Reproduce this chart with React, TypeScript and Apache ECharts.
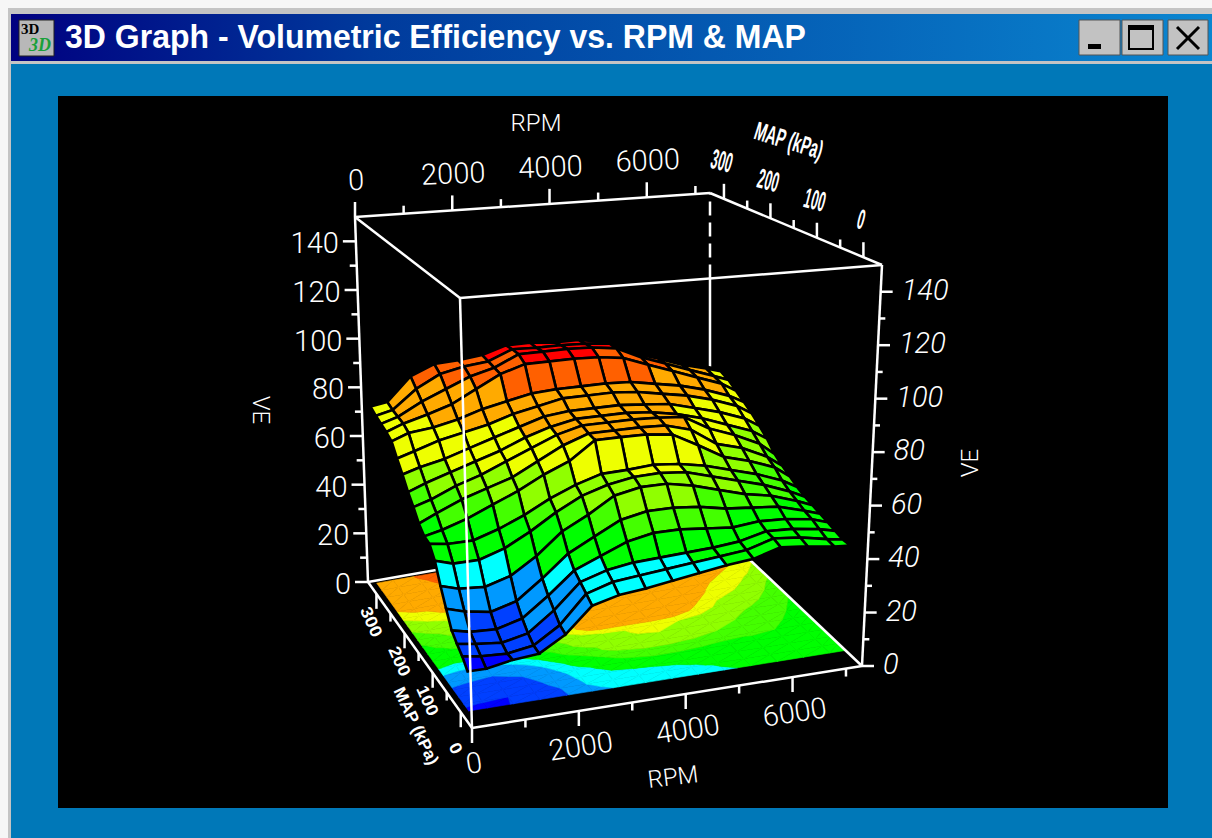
import React, { useEffect, useRef } from "react";
import * as echarts from "echarts";

const TITLE = "3D Graph - Volumetric Efficiency vs. RPM & MAP";

const rpmAxisValues = [150, 500, 1000, 1500, 2000, 2500, 3000, 3500, 4000, 4500, 5000, 5500, 6000, 6500, 7000, 7300];
const mapAxisValues = [0, 18, 36, 54, 72, 90, 108, 126, 144, 162, 180, 198, 216, 234, 252, 270, 288, 306, 324];

const veRow0 = [14, 14, 15.7, 16.5, 22, 31, 33.5, 34.5, 36, 37.5, 39, 40, 43, 42, 40.5, 40];
const veRow1 = [17, 16, 15.5, 17, 23, 33, 36, 37, 38, 39, 40, 41, 44, 43, 41, 40];
const veRow2 = [19, 18, 17, 19, 26, 35, 38, 39.5, 40, 40.5, 41, 42, 44.5, 44, 42.5, 41];
const veRow3 = [21.5, 20, 19.5, 22, 29, 37, 41, 45, 47, 47, 46, 45, 46, 45.5, 44, 42];
const veRow4 = [27, 25, 23.4, 26, 33, 41, 46, 51, 53, 53, 52, 50, 49, 48, 45, 43];
const veRow5 = [33, 31, 30.3, 33, 39, 47, 52, 58, 60, 60, 58, 55, 52, 50, 46.5, 44];
const veRow6 = [40, 38, 38, 41, 46, 52, 57, 60, 61.7, 62, 61, 58, 55, 52, 48, 45];
const veRow7 = [44, 43, 43, 46, 50, 55, 59, 62, 62.3, 63, 62, 60, 57, 54, 50, 46.5];
const veRow8 = [44.5, 46, 49, 53, 57, 62, 66, 73, 73, 72.8, 71.5, 66, 60, 57, 53, 48.5];
const veRow9 = [47, 50, 54, 57, 60, 65, 70, 73.5, 73.5, 73.5, 73, 70, 63, 60, 55, 50.5];
const veRow10 = [51, 53, 57, 60, 64, 68, 72, 74.5, 74.5, 74.5, 74, 73, 67, 63, 58, 53];
const veRow11 = [54.5, 57, 60, 63, 66, 70, 73, 75, 75, 75, 74, 72, 69, 65, 61, 57];
const veRow12 = [59, 61, 63, 66, 69, 72, 75, 76, 76, 76, 75, 74, 71, 68, 64, 60];
const veRow13 = [63, 65, 68, 70, 72, 75, 77, 79, 79, 79, 78, 76, 74, 71, 67, 63];
const veRow14 = [67.5, 70, 71, 73, 76, 78, 80, 80.6, 80.6, 80.6, 80, 78, 76, 73, 69, 65.5];
const veRow15 = [69, 71.5, 74, 77, 82, 87, 90, 90, 90, 89.5, 88, 84, 80, 76, 72, 68];
const veRow16 = [70, 72, 77, 81, 85, 87.5, 92, 92, 92, 91.5, 90, 85, 81, 77, 73, 70.5];
const veRow17 = [71, 72.5, 80, 85, 87, 88, 92, 91.5, 91.5, 91, 90, 84.5, 81, 77, 74, 72];
const veRow18 = [72.5, 73.5, 83, 87, 87.5, 88.5, 91.5, 91.5, 90.5, 90.5, 88.5, 83, 80, 76, 73, 71];

const rpmTicks = [0, 1000, 2000, 3000, 4000, 5000, 6000, 7000];
const rpmTickLabels = ["0", "2000", "4000", "6000"];
const mapTicks = [0, 50, 100, 150, 200, 250, 300];
const mapTickLabels = ["0", "100", "200", "300"];
const veTicks = [0, 10, 20, 30, 40, 50, 60, 70, 80, 90, 100, 110, 120, 130, 140];
const veTickLabels = ["0", "20", "40", "60", "80", "100", "120", "140"];

const bandLimits = [15.5, 23, 33, 39.5, 48, 55, 62, 72.5, 82, 90];
const floorLimits = [15.5, 23, 33, 39.5, 48, 55, 62, 67.5, 82, 90];
const bandColors = ["#0000ff", "#0040ff", "#0099ff", "#00ffff", "#00ff00", "#44ff00", "#90ff00", "#eeff00", "#ffaa00", "#ff6000", "#ff0000"];

const table = [veRow0, veRow1, veRow2, veRow3, veRow4, veRow5, veRow6, veRow7, veRow8, veRow9, veRow10, veRow11, veRow12, veRow13, veRow14, veRow15, veRow16, veRow17, veRow18];

const RPM_MAX = 7300;
const MAP_MIN = -40;
const MAP_MAX = 330;
const VE_MAX = 150;

// screen corners of the plot box [rpm][map][ve]
const C000 = [472, 728], C100 = [862, 666], C010 = [368, 582], C110 = [710, 522];
const C001 = [460, 298], C101 = [882, 265], C011 = [355, 217], C111 = [710, 193];

function project(rpm: number, map: number, ve: number) {
  const u = rpm / RPM_MAX, v = (map - MAP_MIN) / (MAP_MAX - MAP_MIN), w = ve / VE_MAX;
  const f = (i: number) =>
    (1 - w) * ((1 - v) * ((1 - u) * C000[i] + u * C100[i]) + v * ((1 - u) * C010[i] + u * C110[i])) +
    w * ((1 - v) * ((1 - u) * C001[i] + u * C101[i]) + v * ((1 - u) * C011[i] + u * C111[i]));
  return [f(0), f(1)];
}

function bandOf(val: number) {
  let i = 0;
  while (i < bandLimits.length && val >= bandLimits[i]) i++;
  return i;
}

type V = [number, number, number];
function clip(poly: V[], level: number, keepAbove: boolean): V[] {
  const out: V[] = [];
  const inside = (p: V) => (keepAbove ? p[2] >= level : p[2] <= level);
  for (let i = 0; i < poly.length; i++) {
    const a = poly[i], b = poly[(i + 1) % poly.length];
    if (inside(a)) out.push(a);
    if (inside(a) !== inside(b)) {
      const t = (level - a[2]) / (b[2] - a[2]);
      out.push([a[0] + t * (b[0] - a[0]), a[1] + t * (b[1] - a[1]), level]);
    }
  }
  return out;
}

const floorPieces: { pts: V[]; band: number }[] = [];
for (let r = 0; r < mapAxisValues.length - 1; r++) {
  for (let c = 0; c < rpmAxisValues.length - 1; c++) {
    const p = (cc: number, rr: number): V => [rpmAxisValues[cc], mapAxisValues[rr], table[rr][cc]];
    const tris: V[][] = [[p(c, r), p(c + 1, r), p(c + 1, r + 1)], [p(c, r), p(c + 1, r + 1), p(c, r + 1)]];
    tris.forEach((tri) => {
      for (let b = 0; b < bandColors.length; b++) {
        let poly = tri;
        if (b > 0) poly = clip(poly, floorLimits[b - 1], true);
        if (poly.length && b < floorLimits.length) poly = clip(poly, floorLimits[b], false);
        if (poly.length >= 3) floorPieces.push({ pts: poly, band: b });
      }
    });
  }
}

const surfaceCells: number[][] = [];
for (let r = mapAxisValues.length - 2; r >= 0; r--) {
  for (let c = rpmAxisValues.length - 2; c >= 0; c--) surfaceCells.push([c, r]);
}

type P3 = [number, number, number];
type Seg = { a: P3; b?: P3; off?: number[]; dash?: number[] };

const backSegs: Seg[] = [
  { a: [0, MAP_MAX, 0], b: [RPM_MAX, MAP_MAX, 0] },
  { a: [RPM_MAX, MAP_MAX, 0], b: [RPM_MAX, MAP_MAX, 111] },
  { a: [RPM_MAX, MAP_MAX, 111], b: [RPM_MAX, MAP_MAX, VE_MAX], dash: [14, 7] },
  { a: [RPM_MAX, MAP_MIN, 0], b: [RPM_MAX, MAP_MAX, 0] },
];

const frontSegs: Seg[] = [
  { a: [0, MAP_MAX, VE_MAX], b: [RPM_MAX, MAP_MAX, VE_MAX] },
  { a: [RPM_MAX, MAP_MAX, VE_MAX], b: [RPM_MAX, MAP_MIN, VE_MAX] },
  { a: [RPM_MAX, MAP_MIN, VE_MAX], b: [0, MAP_MIN, VE_MAX] },
  { a: [0, MAP_MIN, VE_MAX], b: [0, MAP_MAX, VE_MAX] },
  { a: [0, MAP_MAX, 0], b: [0, MAP_MAX, VE_MAX] },
  { a: [0, MAP_MIN, 0], b: [0, MAP_MIN, VE_MAX] },
  { a: [RPM_MAX, MAP_MIN, 0], b: [RPM_MAX, MAP_MIN, VE_MAX] },
  { a: [0, MAP_MIN, 0], b: [RPM_MAX, MAP_MIN, 0] },
  { a: [0, MAP_MIN, 0], b: [0, MAP_MAX, 0] },
];
rpmTicks.forEach((t) => {
  const len = t % 2000 === 0 ? 15 : 8;
  frontSegs.push({ a: [t, MAP_MAX, VE_MAX], off: [0, -len] });
  frontSegs.push({ a: [t, MAP_MIN, 0], off: [0, len] });
});
mapTicks.forEach((t) => {
  const len = t % 100 === 0 ? 15 : 8;
  frontSegs.push({ a: [RPM_MAX, t, VE_MAX], off: [0, -len] });
  frontSegs.push({ a: [0, t, 0], off: [0, len] });
});
veTicks.forEach((t) => {
  const major = t % 20 === 0;
  frontSegs.push({ a: [0, MAP_MAX, t], off: [major ? -13 : -7, 0] });
  frontSegs.push({ a: [RPM_MAX, MAP_MIN, t], off: [major ? 12 : 6, 0] });
});

type Lab = { text: string; x: number; y: number; rot?: number; sx?: number; size?: number; bold?: boolean; italic?: boolean; align?: string };
const labels: Lab[] = [];
const FS = 29;
rpmTickLabels.forEach((s) => {
  const [x, y] = project(+s, MAP_MAX, VE_MAX);
  labels.push({ text: s, x: x + 1, y: y - 37, rot: 0.04 });
  const [bx, by] = project(+s, MAP_MIN, 0);
  labels.push({ text: s, x: bx + 2, y: by + 35, rot: 0.15 });
});
mapTickLabels.forEach((s) => {
  const [x, y] = project(RPM_MAX, +s, VE_MAX);
  labels.push({ text: s, x: x - 2, y: y - 38, rot: -0.25, sx: 0.45, size: 28, bold: true });
  const [bx, by] = project(0, +s, 0);
  if (+s === 0) labels.push({ text: s, x: bx - 5, y: by + 36, rot: -1.1, sx: 1.1, size: 17, bold: true });
  else labels.push({ text: s, x: bx - 5, y: by + 28, rot: -1.15, sx: 1.1, size: 17, bold: true });
});
veTickLabels.forEach((s) => {
  const [x, y] = project(0, MAP_MAX, +s);
  labels.push({ text: s, x: x - 17, y: y + 2, align: "right" });
  const [rx, ry] = project(RPM_MAX, MAP_MIN, +s);
  labels.push({ text: s, x: rx + 21, y: ry - 2, align: "left", italic: true });
});
labels.push({ text: "RPM", x: 536, y: 123, size: 24 });
labels.push({ text: "RPM", x: 673, y: 777, size: 24, rot: 0.12 });
labels.push({ text: "VE", x: 261, y: 410, size: 24, rot: -Math.PI / 2 });
labels.push({ text: "VE", x: 970, y: 463, size: 24, rot: Math.PI / 2 });
labels.push({ text: "MAP (kPa)", x: 789, y: 140, size: 26, rot: -0.3, sx: 0.55, bold: true });
labels.push({ text: "MAP (kPa)", x: 416, y: 726, size: 17, rot: -1.13, sx: 1, bold: true });

function segItem(seg: Seg, api: any) {
  const a = project(seg.a[0], seg.a[1], seg.a[2]);
  const b = seg.b ? project(seg.b[0], seg.b[1], seg.b[2]) : [a[0] + seg.off![0], a[1] + seg.off![1]];
  const p = api.coord(a), q = api.coord(b);
  return {
    type: "line",
    shape: { x1: p[0], y1: p[1], x2: q[0], y2: q[1] },
    style: { stroke: "#ffffff", lineWidth: 2.5, lineDash: seg.dash, fill: null },
  };
}

const segSeries = (segs: Seg[]) => ({
  type: "custom",
  coordinateSystem: "cartesian2d",
  clip: false,
  silent: true,
  data: segs.map((_, i) => [i, 0]),
  renderItem: (p: any, api: any) => segItem(segs[p.dataIndex], api),
});

export default function App() {
  const ref = useRef<HTMLDivElement>(null);
  useEffect(() => {
    document.body.style.margin = "0";
    document.body.style.overflow = "hidden";
    const chart = echarts.init(ref.current!, undefined, { renderer: "svg" });
    chart.setOption({
      animation: false,
      backgroundColor: "#f6f6f6",
      grid: { left: 0, right: 0, top: 0, bottom: 0 },
      xAxis: { type: "value", min: 0, max: 1212, show: false },
      yAxis: { type: "value", min: 0, max: 838, inverse: true, show: false },
      graphic: [
        { type: "rect", shape: { x: 8, y: 8, width: 1204, height: 830 }, style: { fill: "#c4c4c4" } },
        { type: "rect", shape: { x: 11, y: 64, width: 1201, height: 774 }, style: { fill: "#0078b8" } },
        {
          type: "rect",
          shape: { x: 11, y: 14, width: 1201, height: 47 },
          style: {
            fill: new echarts.graphic.LinearGradient(0, 0, 1, 0, [
              { offset: 0, color: "#000080" },
              { offset: 0.3, color: "#003a9c" },
              { offset: 1, color: "#0a86d0" },
            ]),
          },
        },
        { type: "rect", shape: { x: 58, y: 96, width: 1110, height: 712 }, style: { fill: "#000000" } },
        { type: "rect", shape: { x: 19, y: 20, width: 35, height: 36 }, style: { fill: "#b8b8b8", stroke: "#202020", lineWidth: 1 } },
        { type: "text", x: 21, y: 21, style: { text: "3D", fill: "#000000", fontSize: 15, fontWeight: "bold", fontFamily: "Liberation Sans Narrow" } },
        { type: "text", x: 29, y: 36, style: { text: "3D", fill: "#1aa03a", fontSize: 18, fontWeight: "bold", fontStyle: "italic", fontFamily: "Liberation Sans Narrow" } },
        {
          type: "text",
          x: 65,
          y: 37,
          scaleX: 0.97,
          style: { text: TITLE, fill: "#ffffff", fontSize: 33, fontWeight: "bold", fontFamily: "Liberation Sans", align: "left", verticalAlign: "middle", textAlign: "left", textVerticalAlign: "middle" },
        },
        { type: "rect", shape: { x: 1079, y: 20, width: 41, height: 35 }, style: { fill: "#c2c2c2", stroke: "#555", lineWidth: 1 } },
        { type: "rect", shape: { x: 1122, y: 20, width: 41, height: 35 }, style: { fill: "#c2c2c2", stroke: "#555", lineWidth: 1 } },
        { type: "rect", shape: { x: 1168, y: 20, width: 40, height: 35 }, style: { fill: "#c2c2c2", stroke: "#555", lineWidth: 1 } },
        { type: "rect", shape: { x: 1088, y: 44, width: 13, height: 5 }, style: { fill: "#000000" } },
        { type: "rect", shape: { x: 1129, y: 26, width: 24, height: 23 }, style: { fill: "none", stroke: "#000000", lineWidth: 2 } },
        { type: "rect", shape: { x: 1129, y: 26, width: 24, height: 4 }, style: { fill: "#000000" } },
        { type: "line", shape: { x1: 1177, y1: 27, x2: 1199, y2: 49 }, style: { stroke: "#000", lineWidth: 3 } },
        { type: "line", shape: { x1: 1199, y1: 27, x2: 1177, y2: 49 }, style: { stroke: "#000", lineWidth: 3 } },
      ],
      series: [
        {
          type: "custom",
          coordinateSystem: "cartesian2d",
          clip: false,
          silent: true,
          data: floorPieces.map((_, i) => [i, 0]),
          renderItem: (p: any, api: any) => {
            const piece = floorPieces[p.dataIndex];
            const c = bandColors[piece.band];
            return {
              type: "polygon",
              shape: { points: piece.pts.map((q) => api.coord(project(q[0], q[1], 0))) },
              style: { fill: c, stroke: c, lineWidth: 0.6 },
            };
          },
        },
        segSeries(backSegs),
        {
          type: "custom",
          coordinateSystem: "cartesian2d",
          clip: false,
          silent: true,
          data: surfaceCells,
          renderItem: (_p: any, api: any) => {
            const c = api.value(0), r = api.value(1);
            const corners = [[c, r], [c + 1, r], [c + 1, r + 1], [c, r + 1]];
            const vals = corners.map(([cc, rr]) => table[rr][cc]);
            const avg = (vals[0] + vals[1] + vals[2] + vals[3]) / 4;
            return {
              type: "polygon",
              shape: { points: corners.map(([cc, rr]) => api.coord(project(rpmAxisValues[cc], mapAxisValues[rr], table[rr][cc]))) },
              style: { fill: bandColors[bandOf(avg)], stroke: "#000000", lineWidth: 2.6 },
            };
          },
        },
        segSeries(frontSegs),
        {
          type: "custom",
          coordinateSystem: "cartesian2d",
          clip: false,
          silent: true,
          data: labels.map((_, i) => [i, 0]),
          renderItem: (p: any, api: any) => {
            const l = labels[p.dataIndex];
            const [x, y] = api.coord([l.x, l.y]);
            const align = l.align || "center";
            return {
              type: "text",
              x,
              y,
              rotation: l.rot || 0,
              scaleX: l.sx || 1,
              style: {
                text: l.text,
                fill: "#ffffff",
                fontSize: l.size || FS,
                fontWeight: l.bold ? "bold" : 300,
                fontStyle: l.italic ? "italic" : "normal",
                fontFamily: l.bold ? "Liberation Sans" : "Roboto",
                align,
                verticalAlign: "middle",
                textAlign: align,
                textVerticalAlign: "middle",
              },
            };
          },
        },
      ],
    });
    return () => chart.dispose();
  }, []);
  return <div ref={ref} style={{ width: 1212, height: 838 }} />;
}
